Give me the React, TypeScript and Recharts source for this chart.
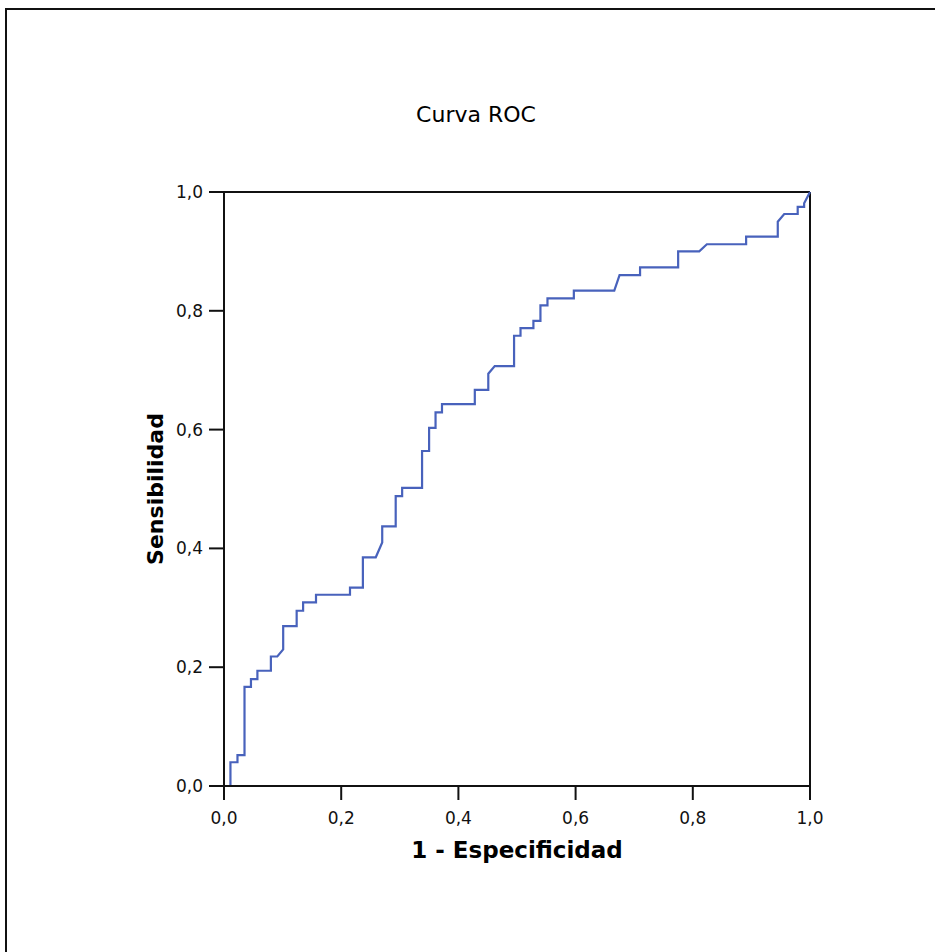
import React from 'react';
import { LineChart, Line, XAxis, YAxis, ReferenceLine, Label } from 'recharts';

// ROC curve vertices (1 - especificidad, sensibilidad)
const fpr = [
  0, 0.011, 0.011, 0.023, 0.023, 0.035, 0.035, 0.046, 0.046, 0.057, 0.057, 0.08, 0.08, 0.091, 0.101, 0.101,
  0.124, 0.124, 0.135, 0.135, 0.157, 0.157, 0.215, 0.215, 0.237, 0.237, 0.259, 0.27, 0.27, 0.293, 0.293, 0.304,
  0.304, 0.338, 0.338, 0.35, 0.35, 0.361, 0.361, 0.372, 0.372, 0.428, 0.428, 0.451, 0.451, 0.462, 0.495, 0.495,
  0.506, 0.506, 0.528, 0.528, 0.54, 0.54, 0.552, 0.552, 0.597, 0.597, 0.666, 0.675, 0.71, 0.71, 0.775, 0.775,
  0.811, 0.824, 0.891, 0.891, 0.945, 0.945, 0.956, 0.979, 0.979, 0.99, 0.99, 1,
];
const tpr = [
  0, 0, 0.04, 0.04, 0.052, 0.052, 0.167, 0.167, 0.18, 0.18, 0.194, 0.194, 0.218, 0.218, 0.23, 0.269,
  0.269, 0.295, 0.295, 0.309, 0.309, 0.322, 0.322, 0.334, 0.334, 0.385, 0.385, 0.41, 0.437, 0.437, 0.488, 0.488,
  0.502, 0.502, 0.564, 0.564, 0.603, 0.603, 0.629, 0.629, 0.643, 0.643, 0.667, 0.667, 0.694, 0.707, 0.707, 0.758,
  0.758, 0.771, 0.771, 0.783, 0.783, 0.809, 0.809, 0.821, 0.821, 0.834, 0.834, 0.86, 0.86, 0.873, 0.873, 0.9,
  0.9, 0.912, 0.912, 0.925, 0.925, 0.95, 0.963, 0.963, 0.975, 0.975, 0.981, 1,
];
const axisTicks = [0, 0.2, 0.4, 0.6, 0.8, 1];

const title = 'Curva ROC';
const xLabel = '1 - Especificidad';
const yLabel = 'Sensibilidad';

const FONT = '"DejaVu Sans", Arial, sans-serif';
const fmt = (v: number) => v.toFixed(1).replace('.', ',');

const App: React.FC = () => {
  const data = fpr.map((x, i) => ({ fpr: x, tpr: tpr[i] }));

  return (
    <div style={{ position: 'absolute', left: 0, top: 0, width: 935, height: 952, background: '#fff', overflow: 'hidden' }}>
      {/* outer frame, top and left edges only */}
      <div
        style={{
          position: 'absolute', left: 5, top: 8, width: 935, height: 950,
          borderTop: '2px solid #111', borderLeft: '2px solid #111', boxSizing: 'border-box',
        }}
      />
      <div
        style={{
          position: 'absolute', left: 0, top: 102, width: 952, textAlign: 'center',
          fontFamily: FONT, fontSize: 22, color: '#000', lineHeight: '26px',
        }}
      >
        {title}
      </div>
      <div style={{ position: 'absolute', left: 0, top: 0 }}>
        <LineChart
          width={935}
          height={952}
          data={data}
          margin={{ top: 192, right: 125, bottom: 106, left: 144 }}
        >
          <XAxis
            dataKey="fpr"
            type="number"
            domain={[0, 1]}
            ticks={axisTicks}
            tickFormatter={fmt}
            height={60}
            stroke="#111"
            strokeWidth={2}
            tickSize={14}
            tickMargin={12}
            tick={{ fill: '#111', fontSize: 17, fontFamily: FONT }}
          >
            <Label
              content={({ viewBox }: any) => (
                <text
                  x={viewBox.x + viewBox.width / 2}
                  y={viewBox.y + 72}
                  textAnchor="middle"
                  fontFamily={FONT}
                  fontSize={23}
                  fontWeight="bold"
                  fill="#000"
                >
                  {xLabel}
                </text>
              )}
            />
          </XAxis>
          <YAxis
            dataKey="tpr"
            type="number"
            domain={[0, 1]}
            ticks={axisTicks}
            tickFormatter={fmt}
            width={80}
            stroke="#111"
            strokeWidth={2}
            tickSize={15}
            tickMargin={6}
            tick={{ fill: '#111', fontSize: 17, fontFamily: FONT }}
          >
            <Label
              content={({ viewBox }: any) => {
                const cx = viewBox.x + 19;
                const cy = viewBox.y + viewBox.height / 2;
                return (
                  <text
                    x={cx}
                    y={cy}
                    transform={`rotate(-90, ${cx}, ${cy})`}
                    textAnchor="middle"
                    fontFamily={FONT}
                    fontSize={22}
                    fontWeight="bold"
                    fill="#000"
                  >
                    {yLabel}
                  </text>
                );
              }}
            />
          </YAxis>
          <ReferenceLine y={1} stroke="#111" strokeWidth={2} />
          <ReferenceLine x={1} stroke="#111" strokeWidth={2} />
          <Line
            type="linear"
            dataKey="tpr"
            stroke="#4862bc"
            strokeWidth={2.2}
            dot={false}
            activeDot={false}
            isAnimationActive={false}
          />
        </LineChart>
      </div>
    </div>
  );
};

export default App;
